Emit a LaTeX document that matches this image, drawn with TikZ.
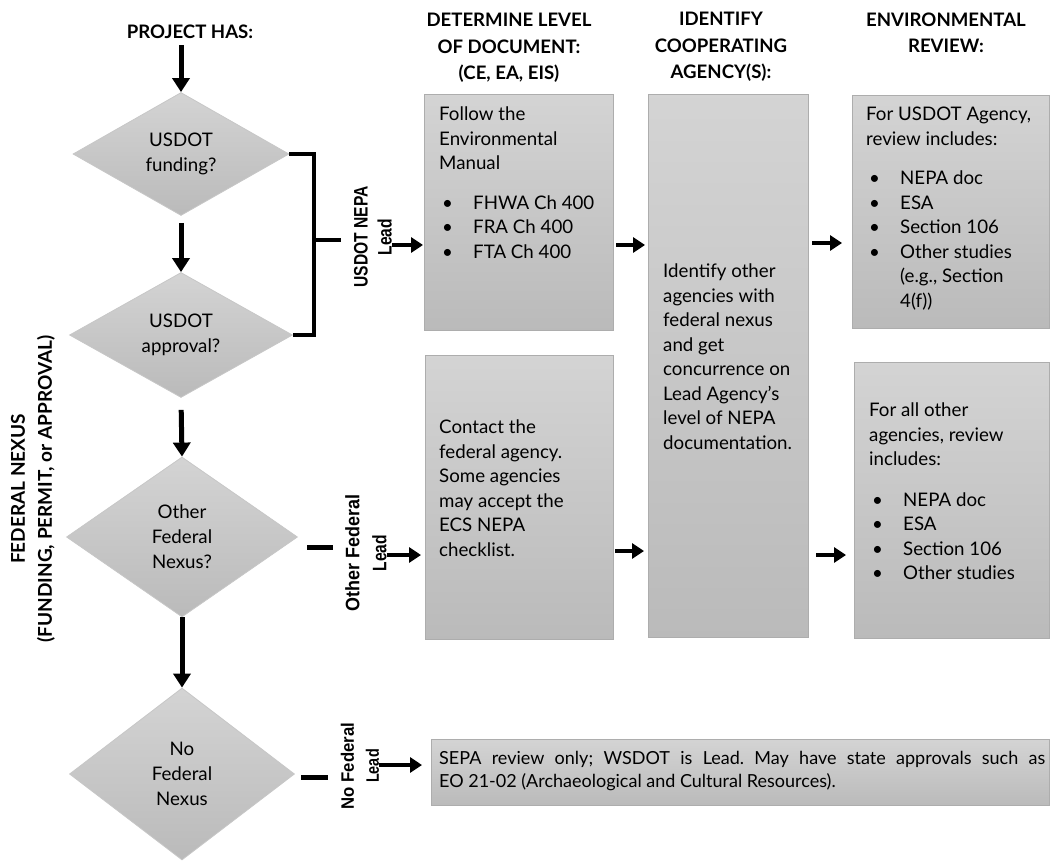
\documentclass[tikz,border=0pt]{standalone}
\usepackage{fontspec}
\setmainfont{Lato}
\newfontfamily\arialf{Liberation Sans}
\usetikzlibrary{shapes.geometric,arrows.meta,calc}
\newcommand{\bul}{\makebox[34pt][l]{\hspace{3pt}\textbullet}}
\newcommand{\ind}{\makebox[34pt]{}}
\newcommand{\cond}[2]{\scalebox{#1}[1]{#2}}
\frenchspacing
\begin{document}
\begin{tikzpicture}[x=1pt,y=-1pt,
  dia/.style={diamond, draw=black!22, line width=0.8pt, top color=black!17, bottom color=black!27, inner sep=0pt, align=center, font=\fontsize{18.7}{25}\selectfont},
  box/.style={rectangle, draw=black!32, line width=1pt, top color=black!17, bottom color=black!27, inner sep=0pt, anchor=north west},
  txt/.style={anchor=north west, inner sep=0pt, align=left, font=\fontsize{18.7}{24.5}\selectfont},
  head/.style={align=center, inner sep=0pt, font=\bfseries\fontsize{18.6}{26.5}\selectfont},
  lab/.style={rotate=90, align=center, inner sep=0pt, font=\arialf\bfseries\fontsize{19.5}{24}\selectfont},
  bigarr/.style={line width=5pt, -{Triangle[width=17pt,length=14pt]}},
  smarr/.style={line width=4.5pt, -{Triangle[width=15pt,length=12pt]}},
  bar/.style={line width=4pt},
]
\useasboundingbox (0,0) rectangle (1050,861);

% headings
\node[head] (h0) at (190,32) {PROJECT HAS:};
\node[head] (h1) at (509,48) {DETERMINE LEVEL\\OF DOCUMENT:\\(CE, EA, EIS)};
\node[head] (h2) at (721,47) {IDENTIFY\\COOPERATING\\AGENCY(S):};
\node[head] (h3) at (946,33) {ENVIRONMENTAL\\REVIEW:};

% side label
\node[lab, font=\bfseries\fontsize{19}{27}\selectfont] (fn) at (33,489) {FEDERAL NEXUS\\(FUNDING, PERMIT, or APPROVAL)};

% diamonds
\node[dia, minimum width=216pt, minimum height=123pt] (d1) at (181,154) {USDOT\\funding?};
\node[dia, minimum width=223pt, minimum height=125pt] (d2) at (181,335) {USDOT\\approval?};
\node[dia, minimum width=231pt, minimum height=160pt] (d3) at (182,537) {Other\\Federal\\Nexus?};
\node[dia, minimum width=225pt, minimum height=172pt] (d4) at (182,774) {No\\Federal\\Nexus};

% boxes
\node[box, minimum width=189pt, minimum height=236pt] (b1) at (424,94) {};
\node[box, minimum width=160pt, minimum height=543pt] (b2) at (648,94) {};
\node[box, minimum width=197pt, minimum height=233pt] (b3) at (852,95) {};
\node[box, minimum width=188pt, minimum height=284pt] (b4) at (425,355) {};
\node[box, minimum width=195pt, minimum height=276pt] (b5) at (854,362) {};
\node[box, minimum width=618pt, minimum height=66pt] (b6) at (431,739) {};

% box texts
\node[txt] (t1) at ([xshift=15pt,yshift=-13pt]b1.north west) {Follow the\\Environmental\\Manual\\[15pt]\bul FHWA Ch 400\\\bul FRA Ch 400\\\bul FTA Ch 400};
\node[txt] (t2) at ([xshift=15pt,yshift=-170pt]b2.north west) {Identify other\\agencies with\\federal nexus\\and get\\concurrence on\\Lead Agency’s\\level of NEPA\\documentation.};
\node[txt] (t3) at ([xshift=14pt,yshift=-12pt]b3.north west) {For USDOT Agency,\\review includes:\\[15pt]\bul NEPA doc\\\bul ESA\\\bul Section 106\\\bul Other studies\\\ind(e.g., Section\\\ind 4(f))};
\node[txt] (t4) at ([xshift=14pt,yshift=-65pt]b4.north west) {Contact the\\federal agency.\\Some agencies\\may accept the\\ECS NEPA\\checklist.};
\node[txt] (t5) at ([xshift=15pt,yshift=-41pt]b5.north west) {For all other\\agencies, review\\includes:\\[16pt]\bul NEPA doc\\\bul ESA\\\bul Section 106\\\bul Other studies};
\node[txt, text width=606pt, align=justify, font=\fontsize{18}{23}\selectfont] (t6) at ([xshift=8pt,yshift=-12pt]b6.north west) {SEPA review only; WSDOT is Lead. May have state approvals such as\linebreak EO 21-02 (Archaeological and Cultural Resources).};

% lead labels
\node[lab] (l1) at (373,237) {\cond{0.8}{USDOT NEPA}\\\cond{0.8}{Lead}};
\node[lab, font=\arialf\bfseries\fontsize{19.5}{27}\selectfont] (l2) at (366,553) {\cond{0.92}{Other Federal}\\\cond{0.8}{Lead}};
\node[lab, font=\arialf\bfseries\fontsize{18}{25}\selectfont] (l3) at (360,766) {\cond{0.93}{No Federal}\\\cond{0.8}{Lead}};

% vertical arrows
\draw[bigarr, shorten <=6pt] (h0.south -| d1.north) -- (d1.north);
\draw[bigarr, shorten <=7pt] (d1.south) -- (d2.north);
\draw[bigarr, shorten <=12pt] (d2.south) -- (d3.north);
\draw[bigarr] (d3.south) -- (d4.north);

% bracket
\coordinate (brk) at (314,240);
\coordinate (brkend) at (341,240);
\draw[bar] (d1.east) -- (d1.east -| brk) -- (d2.east -| brk) -- (d2.east);
\draw[bar] (brk) -- (brkend);

% dashes
\coordinate (s3a) at (307,547); \coordinate (s3b) at (333,547);
\coordinate (s4a) at (301,777); \coordinate (s4b) at (328,777);
\draw[line width=5pt] (s3a) -- (s3b);
\draw[line width=5pt] (s4a) -- (s4b);

% small arrows
\coordinate (y1) at (0,245);
\coordinate (y2) at (0,243);
\coordinate (y3) at (0,555);
\coordinate (y4) at (0,551);
\coordinate (y5) at (0,555);
\coordinate (y6) at (0,765);
\draw[smarr, shorten >=1pt] (l1.south |- y1) -- (b1.west |- y1);
\draw[smarr, shorten <=2pt, shorten >=3pt] (b1.east |- y1) -- (b2.west |- y1);
\draw[smarr, shorten <=3pt, shorten >=10pt] (b2.east |- y2) -- (b3.west |- y2);
\draw[smarr, shorten >=4pt] (l2.south |- y3) -- (b4.west |- y3);
\draw[smarr, shorten <=1pt, shorten >=4pt] (b4.east |- y4) -- (b2.west |- y4);
\draw[smarr, shorten <=7pt, shorten >=8pt] (b2.east |- y5) -- (b5.west |- y5);
\draw[smarr, shorten >=9pt] (l3.south |- y6) -- (b6.west |- y6);
\end{tikzpicture}
\end{document}
